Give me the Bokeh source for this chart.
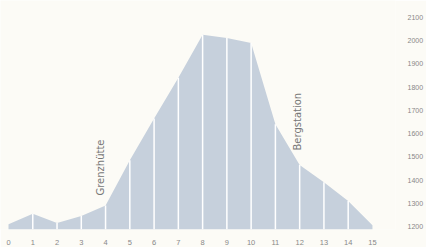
from bokeh.plotting import figure
from bokeh.models import LinearAxis, FixedTicker, Range1d, ColumnDataSource
from bokeh.embed import file_html
from bokeh.resources import INLINE
from bokeh.core.properties import value

# data
km = [0, 1, 2, 3, 4, 5, 6, 7, 8, 9, 10, 11, 12, 13, 14, 15]
elev = [1210, 1255, 1215, 1245, 1290, 1485, 1665, 1840, 2025, 2012, 1990, 1640, 1465, 1390, 1310, 1205]
y_ticks = [1200, 1300, 1400, 1500, 1600, 1700, 1800, 1900, 2000, 2100]
annot_text = ["Grenzhütte", "Bergstation"]
annot_x = [3.79, 11.91]
annot_y = [1333, 1527]

base = 1187
bg = "#fcfbf6"

p = figure(frame_width=395, frame_height=229, output_backend="svg", toolbar_location=None,
           x_range=Range1d(-0.33, 15.95), y_range=Range1d(base, 2173),
           y_axis_location=None, min_border=0, min_border_left=0, min_border_right=0,
           min_border_top=0, min_border_bottom=0)
p.background_fill_color = bg
p.border_fill_color = bg
p.outline_line_color = None
p.grid.visible = False

p.varea(x=km, y1=[base] * len(km), y2=elev, fill_color="#c6d0dc")
inner = km[1:-1]
p.segment(x0=inner, y0=[base] * len(inner), x1=inner, y1=elev[1:-1],
          line_color="white", line_width=1.5)

src = ColumnDataSource(dict(x=annot_x, y=annot_y, t=annot_text))
p.text(x="x", y="y", text="t", source=src, angle=1.5708, text_align="left",
       text_baseline="middle", text_font=value("DejaVu Sans"), text_font_size="10px",
       text_color="#777777")

xa = p.xaxis[0]
xa.ticker = FixedTicker(ticks=km)
xa.axis_line_color = None
xa.major_tick_line_color = None
xa.minor_tick_line_color = None
xa.major_label_standoff = 4
xa.major_label_text_font_size = "7.5px"
xa.major_label_text_color = "#888888"

ra = LinearAxis(ticker=FixedTicker(ticks=y_ticks))
ra.axis_line_color = None
ra.major_tick_line_color = None
ra.minor_tick_line_color = None
ra.major_label_standoff = 6
ra.major_label_text_font_size = "7px"
ra.major_label_text_color = "#888888"
p.add_layout(ra, "right")

open("out.html", "w").write(file_html(p, INLINE))
